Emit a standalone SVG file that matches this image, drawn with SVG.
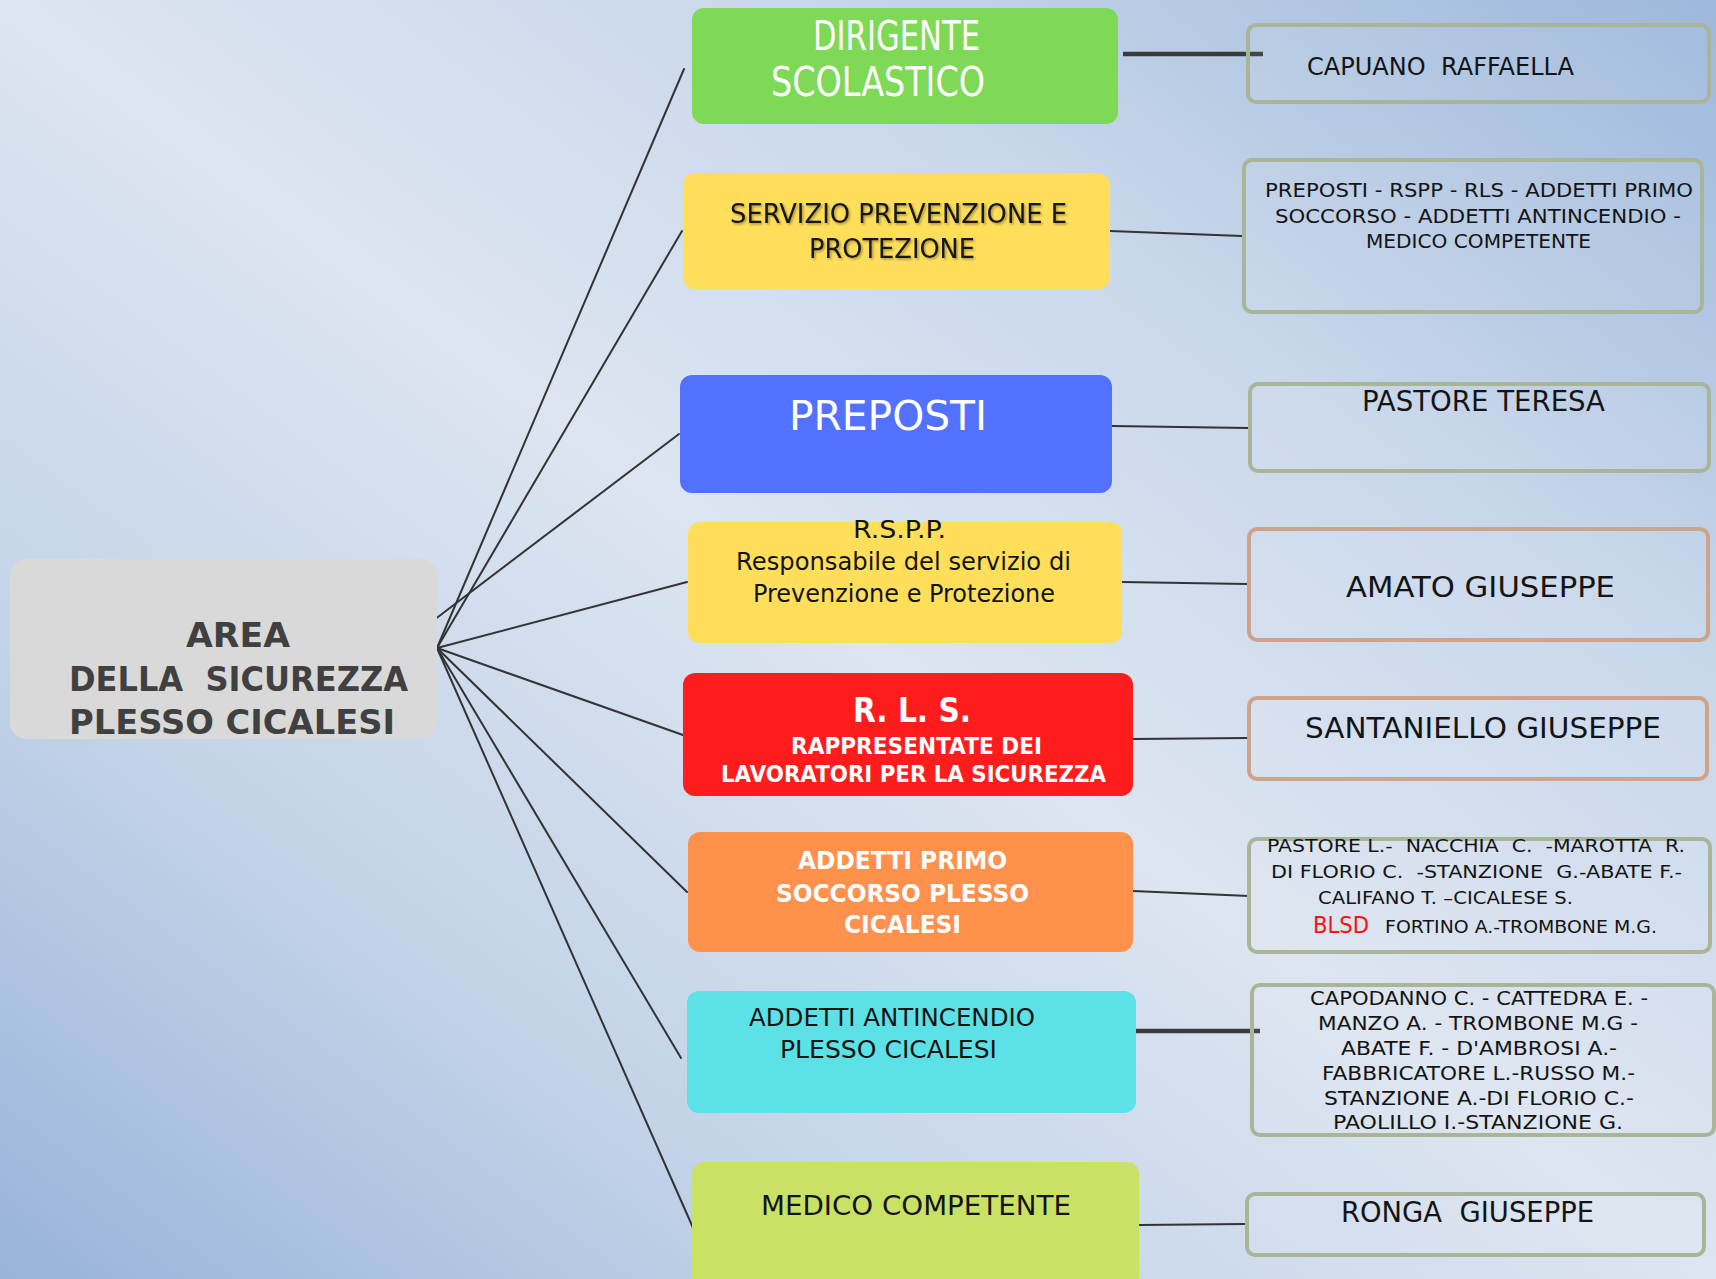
<svg xmlns="http://www.w3.org/2000/svg" width="1716" height="1279" viewBox="0 0 1716 1279">
<defs>
<linearGradient id="bg" x1="0" y1="1" x2="1" y2="0">
<stop offset="0" stop-color="#98b3d9"/>
<stop offset="0.25" stop-color="#c3d3e8"/>
<stop offset="0.5" stop-color="#dce5f1"/>
<stop offset="0.72" stop-color="#cad8eb"/>
<stop offset="1" stop-color="#9db8db"/>
</linearGradient>
<filter id="sh" x="-10%" y="-30%" width="120%" height="160%">
<feDropShadow dx="1.5" dy="1.5" stdDeviation="1.2" flood-color="#000" flood-opacity="0.35"/>
</filter>
</defs>
<style>
.c{stroke:#333;stroke-width:2;fill:none;stroke-linecap:round}
.ct{stroke:#3b3b3b;stroke-width:4.5;fill:none}
.rb{fill:#ffffff;fill-opacity:0.06;stroke:#a9b596;stroke-width:4}
.rt{stroke:#cfa38a}
text{font-family:"DejaVu Sans","Liberation Sans",sans-serif}
.d{fill:#141414}
.w{fill:#ffffff}
.b{font-weight:bold}
</style>
<rect width="1716" height="1279" fill="url(#bg)"/>

<g id="connectors">
<line class="c" x1="437" y1="648" x2="684" y2="69"/>
<line class="c" x1="437" y1="648" x2="682" y2="231"/>
<line class="c" x1="434" y1="620" x2="679" y2="434"/>
<line class="c" x1="437" y1="648" x2="687" y2="582"/>
<line class="c" x1="437" y1="648" x2="683" y2="735"/>
<line class="c" x1="437" y1="648" x2="687" y2="892"/>
<line class="c" x1="437" y1="648" x2="681" y2="1058"/>
<line class="c" x1="437" y1="648" x2="694" y2="1230"/>
<line class="ct" x1="1123" y1="54" x2="1263" y2="54"/>
<line class="c" x1="1110" y1="231" x2="1242" y2="236"/>
<line class="c" x1="1112" y1="426" x2="1248" y2="428"/>
<line class="c" x1="1122" y1="582" x2="1247" y2="584"/>
<line class="c" x1="1133" y1="739" x2="1247" y2="738"/>
<line class="c" x1="1133" y1="891" x2="1249" y2="896"/>
<line class="ct" x1="1132" y1="1031" x2="1260" y2="1031"/>
<line class="c" x1="1139" y1="1225" x2="1245" y2="1224"/>
</g>

<g id="area">
<rect x="10" y="559" width="427" height="180" rx="16" fill="#d9d9d9"/>
<text class="b" fill="#404040" font-size="34" x="186" y="647" textLength="104" lengthAdjust="spacingAndGlyphs">AREA</text>
<text class="b" fill="#404040" font-size="34" x="69" y="691" textLength="339" lengthAdjust="spacingAndGlyphs" xml:space="preserve">DELLA  SICUREZZA</text>
<text class="b" fill="#404040" font-size="34" x="69" y="734" textLength="326" lengthAdjust="spacingAndGlyphs">PLESSO CICALESI</text>
</g>

<g id="dirigente">
<rect x="692" y="8" width="426" height="116" rx="12" fill="#7ed957"/>
<text class="w" font-size="40" x="813" y="50" textLength="167" lengthAdjust="spacingAndGlyphs">DIRIGENTE</text>
<text class="w" font-size="40" x="771" y="96" textLength="214" lengthAdjust="spacingAndGlyphs">SCOLASTICO</text>
</g>

<g id="spp">
<rect x="683" y="173" width="427" height="116" rx="12" fill="#ffde59"/>
<g filter="url(#sh)">
<text class="d" font-size="26" x="730" y="223" textLength="337" lengthAdjust="spacingAndGlyphs">SERVIZIO PREVENZIONE E</text>
<text class="d" font-size="26" x="809" y="258" textLength="166" lengthAdjust="spacingAndGlyphs">PROTEZIONE</text>
</g>
</g>

<g id="preposti">
<rect x="680" y="375" width="432" height="118" rx="12" fill="#5271ff"/>
<text class="w" font-size="40" x="789" y="430" textLength="198" lengthAdjust="spacingAndGlyphs">PREPOSTI</text>
</g>

<g id="rspp">
<rect x="688" y="522" width="434" height="121" rx="12" fill="#ffde59"/>
<text class="d" font-size="24" x="853" y="538" textLength="93" lengthAdjust="spacingAndGlyphs">R.S.P.P.</text>
<text class="d" font-size="24" x="736" y="570" textLength="335" lengthAdjust="spacingAndGlyphs">Responsabile del servizio di</text>
<text class="d" font-size="24" x="753" y="602" textLength="302" lengthAdjust="spacingAndGlyphs">Prevenzione e Protezione</text>
</g>

<g id="rls">
<rect x="683" y="673" width="450" height="123" rx="12" fill="#ff1c1c"/>
<text class="w b" font-size="34" x="853" y="722" textLength="118" lengthAdjust="spacingAndGlyphs">R. L. S.</text>
<text class="w b" font-size="23" x="791" y="754" textLength="251" lengthAdjust="spacingAndGlyphs">RAPPRESENTATE DEI</text>
<text class="w b" font-size="23" x="721" y="782" textLength="385" lengthAdjust="spacingAndGlyphs">LAVORATORI PER LA SICUREZZA</text>
</g>

<g id="primo-soccorso">
<rect x="688" y="832" width="445" height="120" rx="12" fill="#ff914d"/>
<text class="w b" font-size="25" x="798" y="869" textLength="209" lengthAdjust="spacingAndGlyphs">ADDETTI PRIMO</text>
<text class="w b" font-size="25" x="776" y="902" textLength="253" lengthAdjust="spacingAndGlyphs">SOCCORSO PLESSO</text>
<text class="w b" font-size="25" x="844" y="933" textLength="117" lengthAdjust="spacingAndGlyphs">CICALESI</text>
</g>

<g id="antincendio">
<rect x="687" y="991" width="449" height="122" rx="12" fill="#5ce1e6"/>
<text class="d" font-size="25" x="749" y="1026" textLength="286" lengthAdjust="spacingAndGlyphs">ADDETTI ANTINCENDIO</text>
<text class="d" font-size="25" x="780" y="1058" textLength="217" lengthAdjust="spacingAndGlyphs">PLESSO CICALESI</text>
</g>

<g id="medico">
<rect x="692" y="1162" width="447" height="130" rx="12" fill="#c9e265"/>
<text class="d" font-size="27" x="761" y="1215" textLength="310" lengthAdjust="spacingAndGlyphs">MEDICO COMPETENTE</text>
</g>

<g id="capuano">
<rect class="rb" x="1248" y="25" width="461" height="77" rx="8"/>
<text class="d" font-size="24" x="1307" y="75" textLength="267" lengthAdjust="spacingAndGlyphs" xml:space="preserve">CAPUANO  RAFFAELLA</text>
</g>

<g id="spp-list">
<rect class="rb" x="1244" y="160" width="458" height="152" rx="8"/>
<text class="d" font-size="19" x="1265" y="197" textLength="428" lengthAdjust="spacingAndGlyphs">PREPOSTI - RSPP - RLS - ADDETTI PRIMO</text>
<text class="d" font-size="19" x="1275" y="223" textLength="406" lengthAdjust="spacingAndGlyphs">SOCCORSO - ADDETTI ANTINCENDIO -</text>
<text class="d" font-size="19" x="1366" y="248" textLength="225" lengthAdjust="spacingAndGlyphs">MEDICO COMPETENTE</text>
</g>

<g id="pastore">
<rect class="rb" x="1250" y="384" width="459" height="87" rx="8"/>
<text class="d" font-size="28" x="1362" y="411" textLength="243" lengthAdjust="spacingAndGlyphs">PASTORE TERESA</text>
</g>

<g id="amato">
<rect class="rb rt" x="1249" y="529" width="459" height="111" rx="8"/>
<text class="d" font-size="29" x="1346" y="597" textLength="269" lengthAdjust="spacingAndGlyphs">AMATO GIUSEPPE</text>
</g>

<g id="santaniello">
<rect class="rb rt" x="1249" y="698" width="458" height="81" rx="8"/>
<text class="d" font-size="29" x="1305" y="738" textLength="356" lengthAdjust="spacingAndGlyphs">SANTANIELLO GIUSEPPE</text>
</g>

<g id="primo-list">
<rect class="rb" x="1249" y="839" width="461" height="113" rx="8"/>
<text class="d" font-size="18" x="1267" y="852" textLength="418" lengthAdjust="spacingAndGlyphs" xml:space="preserve">PASTORE L.-  NACCHIA  C.  -MAROTTA  R.</text>
<text class="d" font-size="18" x="1271" y="878" textLength="411" lengthAdjust="spacingAndGlyphs" xml:space="preserve">DI FLORIO C.  -STANZIONE  G.-ABATE F.-</text>
<text class="d" font-size="18" x="1318" y="904" textLength="255" lengthAdjust="spacingAndGlyphs">CALIFANO T. –CICALESE S.</text>
<text fill="#ff1010" font-size="23" x="1313" y="933" textLength="56" lengthAdjust="spacingAndGlyphs">BLSD</text>
<text class="d" font-size="18" x="1385" y="933" textLength="272" lengthAdjust="spacingAndGlyphs">FORTINO A.-TROMBONE M.G.</text>
</g>

<g id="antincendio-list">
<rect class="rb" x="1252" y="985" width="462" height="150" rx="8"/>
<text class="d" font-size="19" x="1310" y="1005" textLength="338" lengthAdjust="spacingAndGlyphs">CAPODANNO C. - CATTEDRA E. -</text>
<text class="d" font-size="19" x="1318" y="1030" textLength="320" lengthAdjust="spacingAndGlyphs">MANZO A. - TROMBONE M.G -</text>
<text class="d" font-size="19" x="1341" y="1055" textLength="276" lengthAdjust="spacingAndGlyphs">ABATE F. - D'AMBROSI A.-</text>
<text class="d" font-size="19" x="1322" y="1080" textLength="313" lengthAdjust="spacingAndGlyphs">FABBRICATORE L.-RUSSO M.-</text>
<text class="d" font-size="19" x="1324" y="1105" textLength="310" lengthAdjust="spacingAndGlyphs">STANZIONE A.-DI FLORIO C.-</text>
<text class="d" font-size="19" x="1333" y="1129" textLength="290" lengthAdjust="spacingAndGlyphs">PAOLILLO I.-STANZIONE G.</text>
</g>

<g id="ronga">
<rect class="rb" x="1247" y="1194" width="457" height="61" rx="8"/>
<text class="d" font-size="28" x="1341" y="1222" textLength="253" lengthAdjust="spacingAndGlyphs" xml:space="preserve">RONGA  GIUSEPPE</text>
</g>
</svg>
